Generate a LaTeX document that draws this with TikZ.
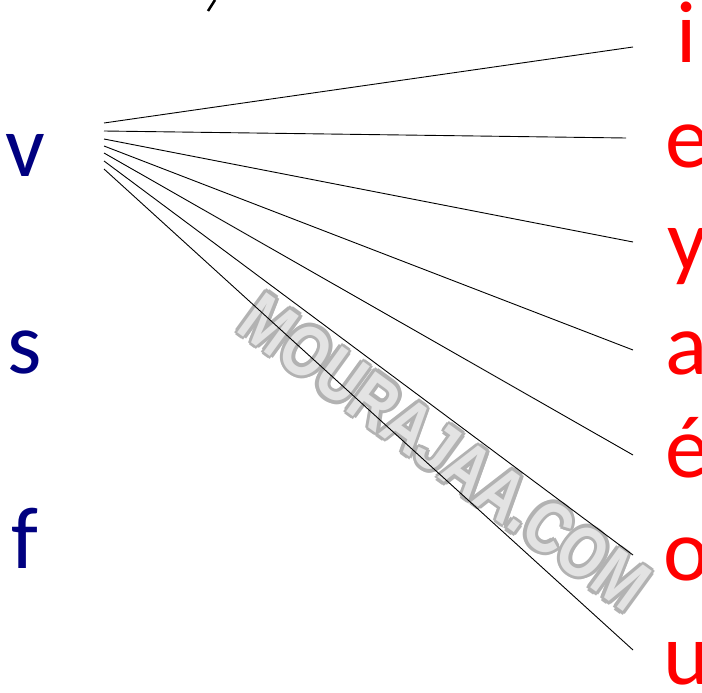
\documentclass[tikz,border=0pt]{standalone}
\usepackage{fontspec}
\usetikzlibrary{calc}
\setmainfont{Carlito}
\newfontfamily\wmfont{Liberation Sans Bold}
\definecolor{leftblue}{RGB}{0,0,128}
\definecolor{rightred}{RGB}{255,0,0}
\newcommand{\wmtext}{\scalebox{0.8}[1]{MOURAJAA.COM}}
\begin{document}
\begin{tikzpicture}[x=1pt,y=-1pt,
  leftletter/.style={anchor=base,inner sep=0pt,text=leftblue,font=\fontsize{88}{88}\selectfont},
  rightletter/.style={anchor=base,inner sep=0pt,text=rightred,font=\fontsize{88}{88}\selectfont},
  wmark/.style={rotate=-36,inner sep=0pt,font=\wmfont\fontsize{72}{72}\selectfont},
  link/.style={black,line width=0.9pt}]
\useasboundingbox (0,0) rectangle (702,693);
% watermark: outline then fill
\foreach \ang in {0,45,...,315}{
  \node[wmark,text=gray!60] (wmo\ang) at ($(445,452)+(\ang:3.5)$) {\wmtext};
}
\node[wmark,text=gray!22] (wm) at (445,452) {\wmtext};
% left letters
\node[leftletter] (v) at (25,176) {v};
\node[leftletter] (s) at (25,373) {s};
\node[leftletter] (f) at (25,568) {f};
% right letters
\node[rightletter] (i) at (687,63) {i};
\node[rightletter] (e) at (687,167) {e};
\node[rightletter] (y) at (687,270) {y};
\node[rightletter] (a) at (687,374) {a};
\node[rightletter] (eacute) at (687,477) {é};
\node[rightletter] (o) at (687,580) {o};
\node[rightletter] (u) at (687,684) {u};
% connector ends
\coordinate (s1) at (104,123);
\coordinate (s2) at (104,131);
\coordinate (s3) at (104,139);
\coordinate (s4) at (104,146);
\coordinate (s5) at (104,153);
\coordinate (s6) at (104,161);
\coordinate (s7) at (104,169);
\coordinate (t1) at (633,47);
\coordinate (t2) at (626,138);
\coordinate (t3) at (633,242);
\coordinate (t4) at (633,350);
\coordinate (t5) at (633,455);
\coordinate (t6) at (633,555);
\coordinate (t7) at (633,650);
\draw[link] (s1) -- (t1);
\draw[link] (s2) -- (t2);
\draw[link] (s3) -- (t3);
\draw[link] (s4) -- (t4);
\draw[link] (s5) -- (t5);
\draw[link] (s6) -- (t6);
\draw[link] (s7) -- (t7);
% partial mark at top
\coordinate (m1) at (208,11);
\coordinate (m2) at (215,0);
\draw[black,line width=2.5pt] (m1) -- (m2);
\end{tikzpicture}
\end{document}
